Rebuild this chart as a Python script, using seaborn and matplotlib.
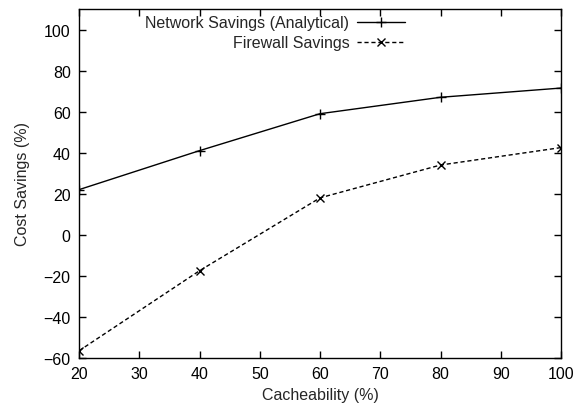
import numpy as np
import pandas as pd
import matplotlib
matplotlib.use('Agg')
import matplotlib.pyplot as plt
import seaborn as sns

cacheability = [20, 40, 60, 80, 100]
network_savings = [22, 41, 59, 67, 71.5]
firewall_savings = [-56.5, -17.5, 18, 34, 42.5]

sns.set_style("ticks")
plt.rcParams['font.family'] = ['Liberation Sans', 'DejaVu Sans']
fs = 11.5

fig = plt.figure(figsize=(5.75, 4.14), dpi=100)
ax = fig.add_axes([0.1374, 0.1329, 0.8383, 0.8429])

sns.lineplot(x=cacheability, y=network_savings, ax=ax, color='black', lw=1,
             marker='+', markersize=7, markeredgewidth=1, markeredgecolor='black',
             label='Network Savings (Analytical)')
sns.lineplot(x=cacheability, y=firewall_savings, ax=ax, color='black', lw=1,
             marker='x', markersize=5.5, markeredgewidth=1, markeredgecolor='black',
             label='Firewall Savings')
ax.lines[1].set_linestyle((0, (3, 2)))

ax.set_xlim(20, 100)
ax.set_ylim(-60, 110)
ax.set_xticks(range(20, 101, 10))
ax.set_yticks(range(-60, 101, 20))
ax.tick_params(direction='in', top=True, right=True, length=5, width=1,
               labelsize=fs, colors='black', pad=6)
for s in ax.spines.values():
    s.set_visible(True)
    s.set_color('black')
    s.set_linewidth(1)
ax.set_xlabel('Cacheability (%)', fontsize=fs, labelpad=4)
ax.set_ylabel('Cost Savings (%)', fontsize=fs, labelpad=10)

leg = ax.legend(loc='upper right', bbox_to_anchor=(0.69, 1.0), frameon=False,
                markerfirst=False, handlelength=3.0, fontsize=fs,
                borderaxespad=0, labelspacing=0.3, handletextpad=0.5)
for t in leg.get_texts():
    t.set_ha('right')
for h in leg.legend_handles:
    h.set_markeredgecolor('black')

fig.savefig('out.png', dpi=100)
